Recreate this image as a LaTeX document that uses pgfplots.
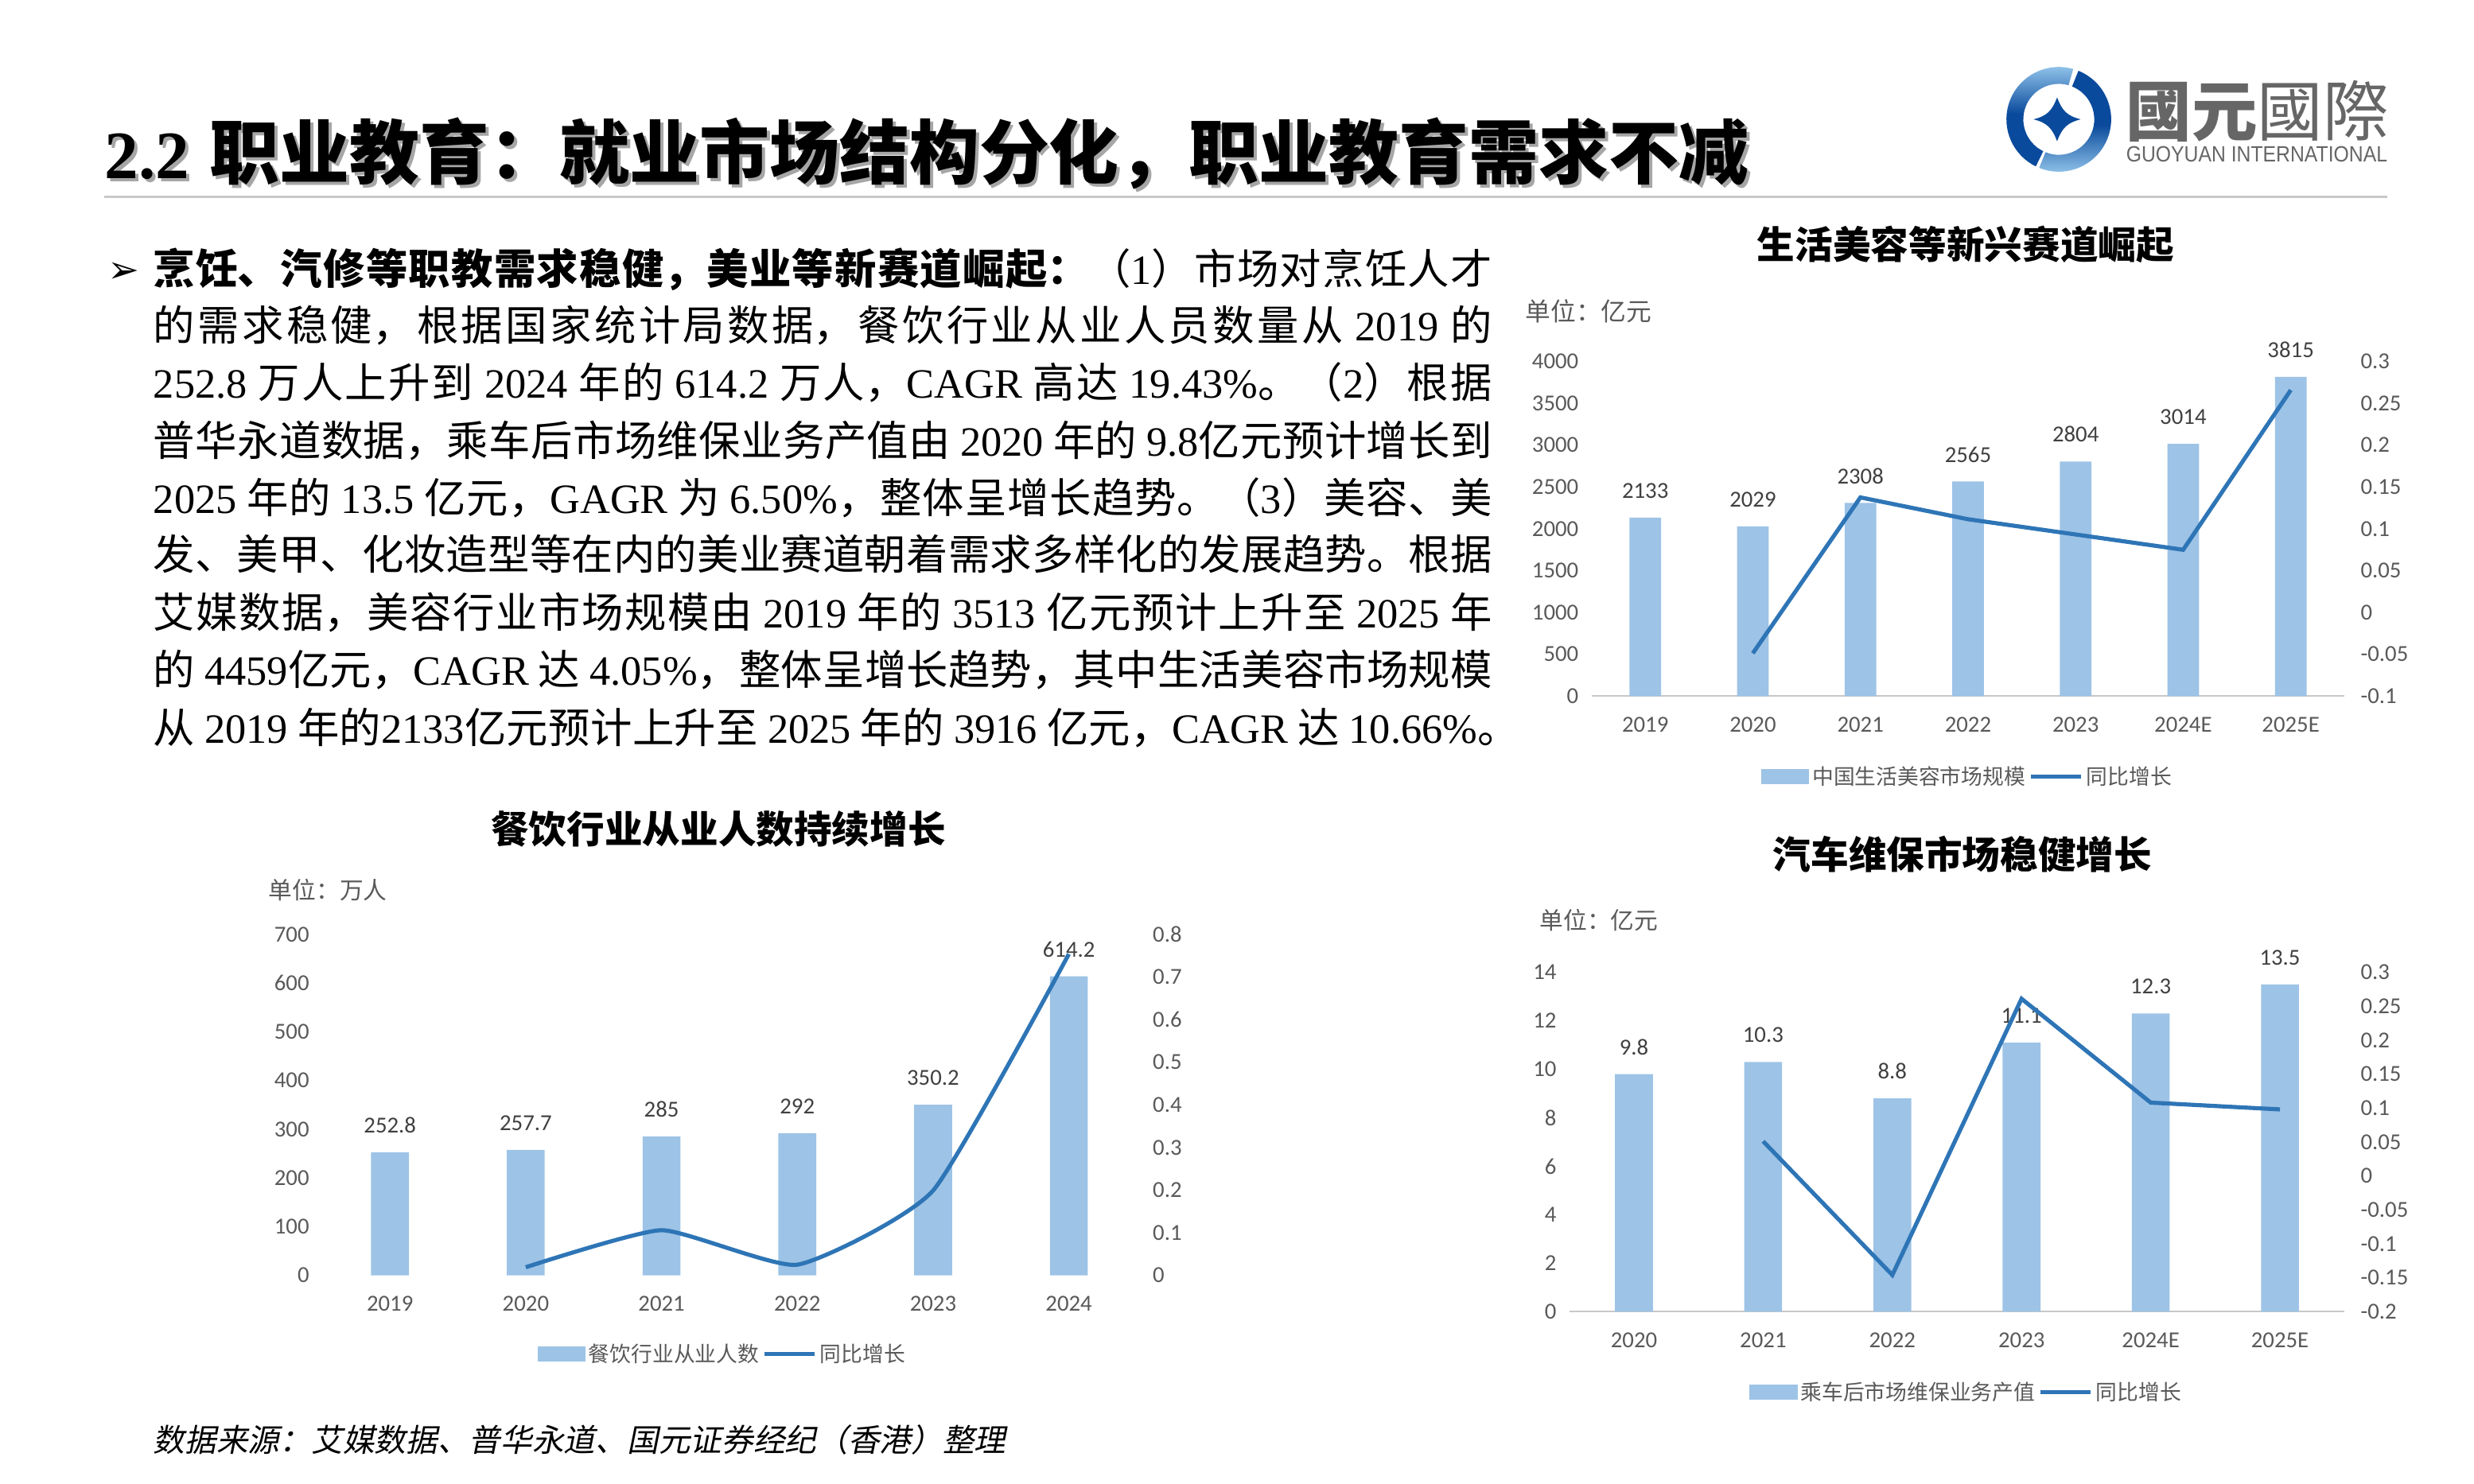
\documentclass[border=0pt]{standalone}
\usepackage{fontspec}
\usepackage{pgfplots}
\pgfplotsset{compat=1.18}
\setmainfont{Noto Sans CJK SC}
\newfontfamily\tnr{Liberation Serif}
\newfontfamily\carl{Carlito}
\newfontfamily\libsans{Liberation Sans}
\newfontfamily\dejavu{DejaVu Sans}
\newfontfamily\cjkit[FakeSlant=0.2]{Noto Sans CJK SC}
\XeTeXlinebreaklocale "zh"
\XeTeXlinebreakskip=0pt plus 3pt minus 0.1pt
\newcommand\T[1]{{\tnr #1}}
\newcommand\pline[2]{\parbox[b]{#1}{\parfillskip=0pt\relax #2}}

\definecolor{barblue}{HTML}{9DC3E6}
\definecolor{lineblue}{HTML}{2E75B6}
\definecolor{tickgray}{HTML}{595959}
\definecolor{labgray}{HTML}{404040}
\definecolor{rulegray}{HTML}{C8C8C8}
\definecolor{logodark}{HTML}{0A4A9C}
\definecolor{logolight}{HTML}{9FD0F2}
\definecolor{logotext}{HTML}{666666}

\pgfplotsset{
  cbase/.style={scale only axis, clip=false, anchor=south west, xmin=-0.5,
    axis line style={draw=none}, major tick length=0pt,
    tick label style={font=\carl\fontsize{14.5}{14.5}\selectfont, text=tickgray}},
  cleft/.style={cbase,
    yticklabel style={anchor=east, inner sep=0pt, xshift=-8pt},
    xticklabel style={anchor=north, inner sep=0pt, yshift=-13pt},
    nodes near coords, point meta=explicit symbolic,
    every node near coord/.append style={font=\carl\fontsize{14.5}{14.5}\selectfont,
      text=labgray, anchor=south, inner sep=0pt, yshift=12pt}},
  cright/.style={cbase, axis y line*=right, axis x line=none,
    yticklabel style={anchor=west, inner sep=0pt, xshift=10pt},
    legend columns=-1,
    legend style={draw=none, fill=none, anchor=center, inner sep=0pt,
      font=\fontsize{13.5}{13.5}\selectfont\color{tickgray},
      nodes={inner sep=2pt}}},
  barleg/.style={legend image code/.code={\fill[barblue] (0pt,-4.5pt) rectangle (30pt,4.5pt);}},
  lineleg/.style={legend image code/.code={\draw[lineblue, line width=2.6pt] (0pt,0pt) -- (32pt,0pt);}}
}

\begin{document}
\begin{tikzpicture}
\useasboundingbox (0pt,0pt) rectangle (1567pt,-940.2pt);

% header
\node[anchor=west, inner sep=0pt, text=black!35] at (68pt,-99pt)
  {{\tnr\bfseries\fontsize{43}{43}\selectfont 2.2}\hspace{13pt}{\bfseries\fontsize{44.3}{44.3}\selectfont 职业教育：就业市场结构分化，职业教育需求不减}};
\node[anchor=west, inner sep=0pt] at (66pt,-97pt)
  {{\tnr\bfseries\fontsize{43}{43}\selectfont 2.2}\hspace{13pt}{\bfseries\fontsize{44.3}{44.3}\selectfont 职业教育：就业市场结构分化，职业教育需求不减}};
\draw[rulegray, line width=1.5pt] (66pt,-124.5pt) -- (1512pt,-124.5pt);

% logo
\begin{scope}[shift={(1304pt,-75.6pt)}, scale=1.07]
  \shade[top color=logolight, bottom color=logodark, middle color=logodark]
    (74:31pt) arc[start angle=74, end angle=244, radius=31pt]
    -- (244:21pt) arc[start angle=244, end angle=74, radius=21pt] -- cycle;
  \shade[top color=logodark, bottom color=logolight, middle color=logodark]
    (-112:31pt) arc[start angle=-112, end angle=68, radius=31pt]
    -- (68:21pt) arc[start angle=68, end angle=-112, radius=21pt] -- cycle;
  \fill[logodark] (-1pt,13pt) .. controls (2pt,5pt) and (5pt,2pt) .. (13pt,0pt)
    .. controls (5pt,-2pt) and (2pt,-5pt) .. (-1pt,-13pt)
    .. controls (-4pt,-5pt) and (-7pt,-2pt) .. (-15pt,0pt)
    .. controls (-7pt,2pt) and (-4pt,5pt) .. cycle;
\end{scope}
\node[anchor=west, inner sep=0pt, text=logotext] at (1346.5pt,-70.5pt)
  {\fontsize{41.6}{41.6}\selectfont{\bfseries 國元}國際};
\node[anchor=west, inner sep=0pt, text=logotext] at (1346.5pt,-97.7pt)
  {\scalebox{0.891}[1]{\libsans\fontsize{14}{14}\selectfont GUOYUAN INTERNATIONAL}};

% paragraph
\node[anchor=base west, inner sep=0pt] at (68pt,-179pt) {\dejavu\fontsize{24}{24}\selectfont ➢};
\begin{scope}[every node/.style={anchor=base west, inner sep=0pt, font=\fontsize{26.4}{26.4}\selectfont}]
\node at (97pt,-180pt) {\pline{848pt}{{\bfseries 烹饪、汽修等职教需求稳健，美业等新赛道崛起：}（\T{1}）市场对烹饪人才}};
\node at (97pt,-216pt) {\pline{848pt}{的需求稳健，根据国家统计局数据，餐饮行业从业人员数量从 \T{2019} 的}};
\node at (97pt,-252pt) {\pline{848pt}{\T{252.8} 万人上升到 \T{2024} 年的 \T{614.2} 万人，\T{CAGR} 高达 \T{19.43\%}。（\T{2}）根据}};
\node at (97pt,-289pt) {\pline{848pt}{普华永道数据，乘车后市场维保业务产值由 \T{2020} 年的 \T{9.8}亿元预计增长到}};
\node at (97pt,-325pt) {\pline{848pt}{\T{2025} 年的 \T{13.5} 亿元，\T{GAGR} 为 \T{6.50\%}，整体呈增长趋势。（\T{3}）美容、美}};
\node at (97pt,-361pt) {\pline{848pt}{发、美甲、化妆造型等在内的美业赛道朝着需求多样化的发展趋势。根据}};
\node at (97pt,-398pt) {\pline{848pt}{艾媒数据，美容行业市场规模由 \T{2019} 年的 \T{3513} 亿元预计上升至 \T{2025} 年}};
\node at (97pt,-434pt) {\pline{848pt}{的 \T{4459}亿元，\T{CAGR} 达 \T{4.05\%}，整体呈增长趋势，其中生活美容市场规模}};
\node at (97pt,-471pt) {\pline{865pt}{从 \T{2019} 年的\T{2133}亿元预计上升至 \T{2025} 年的 \T{3916} 亿元，\T{CAGR} 达 \T{10.66\%}。}};
\end{scope}

% ---------- chart 1: beauty ----------
\node[font=\bfseries\fontsize{24}{24}\selectfont] at (1245pt,-155pt) {生活美容等新兴赛道崛起};
\node[anchor=west, inner sep=0pt, text=tickgray, font=\fontsize{16}{16}\selectfont] at (966pt,-197pt) {单位：亿元};
\begin{axis}[cleft, at={(1008pt,-441pt)}, width=477pt, height=212pt,
  xmax=6.5, ymin=0, ymax=4000,
  xtick={0,...,6}, xticklabels={2019,2020,2021,2022,2023,2024E,2025E},
  ytick={0,500,...,4000}, yticklabels={0,500,1000,1500,2000,2500,3000,3500,4000}]
\draw[rulegray, line width=1pt] (axis cs:-0.5,0) -- (axis cs:6.5,0);
\addplot[ybar, bar width=20pt, fill=barblue, draw=none] coordinates {
  (0,2133) [2133] (1,2029) [2029] (2,2308) [2308] (3,2565) [2565]
  (4,2804) [2804] (5,3014) [3014] (6,3815) [3815]};
\end{axis}
\begin{axis}[cright, at={(1008pt,-441pt)}, width=477pt, height=212pt,
  xmax=6.5, ymin=-0.1, ymax=0.3,
  ytick={-0.1,-0.05,0,0.05,0.1,0.15,0.2,0.25,0.3},
  yticklabels={-0.1,-0.05,0,0.05,0.1,0.15,0.2,0.25,0.3},
  legend style={at={(0.5,-0.24)}}]
\addlegendimage{barleg}
\addlegendentry{中国生活美容市场规模}
\addplot[lineblue, line width=2.6pt, lineleg] coordinates {
  (1,-0.0488) (2,0.1375) (3,0.1114) (4,0.0932) (5,0.0749) (6,0.2658)};
\addlegendentry{同比增长}
\end{axis}

% ---------- chart 2: catering ----------
\node[font=\bfseries\fontsize{24}{24}\selectfont] at (455pt,-525pt) {餐饮行业从业人数持续增长};
\node[anchor=west, inner sep=0pt, text=tickgray, font=\fontsize{15}{15}\selectfont] at (170pt,-564pt) {单位：万人};
\begin{axis}[cleft, at={(204pt,-808pt)}, width=516pt, height=216pt,
  xmax=5.5, ymin=0, ymax=700,
  xtick={0,...,5}, xticklabels={2019,2020,2021,2022,2023,2024},
  ytick={0,100,...,700}, yticklabels={0,100,200,300,400,500,600,700}]
\addplot[ybar, bar width=24pt, fill=barblue, draw=none] coordinates {
  (0,252.8) [252.8] (1,257.7) [257.7] (2,285) [285] (3,292) [292]
  (4,350.2) [350.2] (5,614.2) [614.2]};
\end{axis}
\begin{axis}[cright, at={(204pt,-808pt)}, width=516pt, height=216pt,
  xmax=5.5, ymin=0, ymax=0.8,
  ytick={0,0.1,0.2,0.3,0.4,0.5,0.6,0.7,0.8},
  yticklabels={0,0.1,0.2,0.3,0.4,0.5,0.6,0.7,0.8},
  legend style={at={(0.492,-0.231)}}]
\addlegendimage{barleg}
\addlegendentry{餐饮行业从业人数}
\addplot[lineblue, line width=2.6pt, smooth, tension=0.3, lineleg] coordinates {
  (1,0.019) (2,0.106) (3,0.025) (4,0.199) (5,0.754)};
\addlegendentry{同比增长}
\end{axis}

% ---------- chart 3: car maintenance ----------
\node[font=\bfseries\fontsize{24}{24}\selectfont] at (1243pt,-541pt) {汽车维保市场稳健增长};
\node[anchor=west, inner sep=0pt, text=tickgray, font=\fontsize{15}{15}\selectfont] at (975pt,-583pt) {单位：亿元};
\begin{axis}[cleft, at={(994pt,-831pt)}, width=491pt, height=215pt,
  xmax=5.5, ymin=0, ymax=14,
  xtick={0,...,5}, xticklabels={2020,2021,2022,2023,2024E,2025E},
  ytick={0,2,...,14}, yticklabels={0,2,4,6,8,10,12,14}]
\draw[rulegray, line width=1pt] (axis cs:-0.5,0) -- (axis cs:5.5,0);
\addplot[ybar, bar width=24pt, fill=barblue, draw=none] coordinates {
  (0,9.8) [9.8] (1,10.3) [10.3] (2,8.8) [8.8] (3,11.1) [11.1]
  (4,12.3) [12.3] (5,13.5) [13.5]};
\end{axis}
\begin{axis}[cright, at={(994pt,-831pt)}, width=491pt, height=215pt,
  xmax=5.5, ymin=-0.2, ymax=0.3,
  ytick={-0.2,-0.15,-0.1,-0.05,0,0.05,0.1,0.15,0.2,0.25,0.3},
  yticklabels={-0.2,-0.15,-0.1,-0.05,0,0.05,0.1,0.15,0.2,0.25,0.3},
  legend style={at={(0.513,-0.237)}}]
\addlegendimage{barleg}
\addlegendentry{乘车后市场维保业务产值}
\addplot[lineblue, line width=2.6pt, lineleg] coordinates {
  (1,0.051) (2,-0.146) (3,0.261) (4,0.108) (5,0.098)};
\addlegendentry{同比增长}
\end{axis}

% footer
\node[anchor=west, inner sep=0pt] at (97pt,-912pt)
  {\cjkit\fontsize{20}{20}\selectfont 数据来源：艾媒数据、普华永道、国元证券经纪（香港）整理};
\end{tikzpicture}
\end{document}
